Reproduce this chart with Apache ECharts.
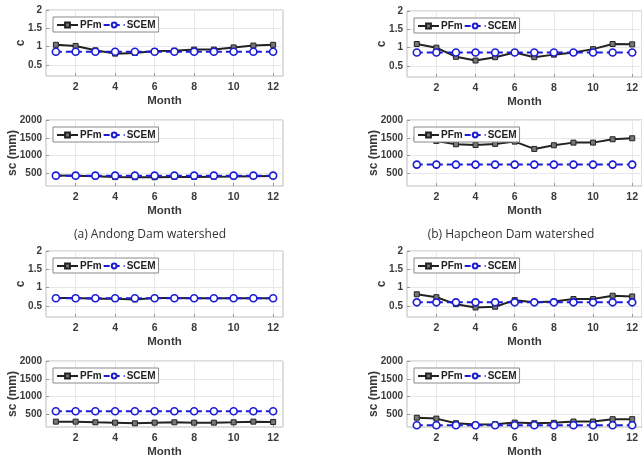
<!DOCTYPE html>
<html>
<head>
<meta charset="utf-8">
<script src="https://cdn.jsdelivr.net/npm/echarts@6/dist/echarts.min.js"></script>
<style>
    html, body { margin: 0; padding: 0; background: #fff; }
    #main { width: 642px; height: 463px; }
</style>
</head>
<body>
<div id="main"></div>
<script>
// months on the x axis
var months = [1, 2, 3, 4, 5, 6, 7, 8, 9, 10, 11, 12];
var monthTicks = [2, 4, 6, 8, 10, 12];
var cTicks = [0.5, 1, 1.5, 2];
var scTicks = [500, 1000, 1500, 2000];

// (a) Andong Dam watershed
var andongCPFm = [1.05, 1.02, 0.90, 0.81, 0.83, 0.88, 0.89, 0.92, 0.92, 0.98, 1.03, 1.05];
var andongCSCEM = [0.86, 0.86, 0.86, 0.86, 0.86, 0.86, 0.86, 0.86, 0.86, 0.86, 0.86, 0.86];
var andongScPFm = [445, 440, 420, 400, 395, 395, 405, 405, 410, 415, 425, 430];
var andongScSCEM = [440, 440, 440, 440, 440, 440, 440, 440, 440, 440, 440, 440];

// (b) Hapcheon Dam watershed
var hapcheonCPFm = [1.10, 1.00, 0.75, 0.65, 0.74, 0.87, 0.74, 0.81, 0.87, 0.96, 1.10, 1.09];
var hapcheonCSCEM = [0.87, 0.87, 0.87, 0.87, 0.87, 0.87, 0.87, 0.87, 0.87, 0.87, 0.87, 0.87];
var hapcheonScPFm = [1480, 1413, 1320, 1300, 1330, 1394, 1189, 1292, 1366, 1366, 1460, 1488];
var hapcheonScSCEM = [750, 750, 750, 750, 750, 750, 750, 750, 750, 750, 750, 750];

// bottom left watershed
var blCPFm = [0.72, 0.72, 0.70, 0.70, 0.68, 0.72, 0.72, 0.71, 0.71, 0.71, 0.71, 0.71];
var blCSCEM = [0.71, 0.71, 0.71, 0.71, 0.71, 0.71, 0.71, 0.71, 0.71, 0.71, 0.71, 0.71];
var blScPFm = [300, 300, 282, 272, 254, 272, 282, 272, 272, 282, 300, 291];
var blScSCEM = [590, 590, 590, 590, 590, 590, 590, 590, 590, 590, 590, 590];

// bottom right watershed
var brCPFm = [0.82, 0.74, 0.55, 0.46, 0.48, 0.66, 0.60, 0.62, 0.69, 0.69, 0.78, 0.76];
var brCSCEM = [0.60, 0.60, 0.60, 0.60, 0.60, 0.60, 0.60, 0.60, 0.60, 0.60, 0.60, 0.60];
var brScPFm = [410, 385, 256, 219, 228, 275, 256, 266, 303, 303, 369, 369];
var brScSCEM = [200, 200, 200, 200, 200, 200, 200, 200, 200, 200, 200, 200];

var captions = ['(a) Andong Dam watershed', '(b) Hapcheon Dam watershed'];

var panels = [
    {left: 46, top: 10, kind: 'c', pfm: andongCPFm, scem: andongCSCEM},
    {left: 46, top: 120, kind: 'sc', pfm: andongScPFm, scem: andongScSCEM},
    {left: 407, top: 11, kind: 'c', pfm: hapcheonCPFm, scem: hapcheonCSCEM},
    {left: 407, top: 120, kind: 'sc', pfm: hapcheonScPFm, scem: hapcheonScSCEM},
    {left: 46, top: 251, kind: 'c', pfm: blCPFm, scem: blCSCEM},
    {left: 46, top: 361, kind: 'sc', pfm: blScPFm, scem: blScSCEM},
    {left: 407, top: 251, kind: 'c', pfm: brCPFm, scem: brCSCEM},
    {left: 407, top: 361, kind: 'sc', pfm: brScPFm, scem: brScSCEM}
];

var boxColor = '#bdbdbd';
var gridColor = '#e8e8e8';
var labelColor = '#3a3a3a';
var blue = '#1c1cd6';

function pairs(vals) {
    return months.map(function (m, i) { return [m, vals[i]]; });
}

var grid = [], xAxis = [], yAxis = [], series = [], legend = [];

panels.forEach(function (p, i) {
    grid.push({left: p.left, top: p.top, width: 237, height: 66, show: true,
        borderColor: boxColor, borderWidth: 1, backgroundColor: '#fff'});
    xAxis.push({
        type: 'value', gridIndex: i, min: 0.5, max: 12.5,
        name: 'Month', nameLocation: 'middle', nameGap: 19, nameMoveOverlap: false,
        nameTextStyle: {color: labelColor, fontSize: 11.5, fontWeight: 'bold', fontFamily: 'Liberation Sans'},
        axisLine: {show: false},
        axisTick: {show: true, inside: true, length: 3, customValues: monthTicks, lineStyle: {color: '#999'}},
        axisLabel: {color: labelColor, fontSize: 10.5, fontWeight: 'bold', fontFamily: 'Liberation Sans',
            margin: 6, customValues: monthTicks},
        splitLine: {show: true, lineStyle: {color: gridColor, width: 1}}
    });
    var isC = p.kind === 'c';
    yAxis.push({
        type: 'value', gridIndex: i,
        min: isC ? 0.2 : 150, max: isC ? 2 : 2000,
        name: isC ? 'c' : 'sc (mm)', nameLocation: 'middle', nameGap: isC ? 19 : 27, nameMoveOverlap: false,
        nameTextStyle: {color: labelColor, fontSize: 12, fontWeight: 'bold', fontFamily: 'Liberation Sans'},
        axisLine: {show: false},
        axisTick: {show: true, inside: true, length: 3, customValues: isC ? cTicks : scTicks, lineStyle: {color: '#999'}},
        axisLabel: {color: labelColor, fontSize: 10, fontWeight: 'bold', fontFamily: 'Liberation Sans',
            margin: 4, customValues: isC ? cTicks : scTicks,
            formatter: function (v) { return String(v); }},
        splitLine: {show: true, lineStyle: {color: gridColor, width: 1}}
    });
    series.push({
        name: 'PFm', type: 'line', xAxisIndex: i, yAxisIndex: i,
        data: pairs(p.pfm), symbol: 'rect', symbolSize: 5,
        lineStyle: {color: '#222', width: 2},
        itemStyle: {color: '#777', borderColor: '#222', borderWidth: 1},
        emphasis: {disabled: true}, animation: false
    });
    series.push({
        name: 'SCEM', type: 'line', xAxisIndex: i, yAxisIndex: i,
        data: pairs(p.scem), symbol: 'circle', symbolSize: 7,
        lineStyle: {color: blue, width: 2, type: [6, 4]},
        itemStyle: {color: '#fff', borderColor: blue, borderWidth: 1.6},
        emphasis: {disabled: true}, animation: false
    });
    legend.push({
        left: p.left + 7, top: p.top + 7,
        data: ['PFm', 'SCEM'],
        itemWidth: 21, itemHeight: 6, itemGap: 1,
        padding: [3, 3, 2, 3],
        borderColor: '#8a8a8a', borderWidth: 1, borderRadius: 0,
        backgroundColor: '#fff', selectedMode: false,
        textStyle: {color: '#222', fontSize: 10, fontWeight: 'bold', fontFamily: 'Liberation Sans', padding: [0, 0, 0, -3]}
    });
});

var myChart = echarts.init(document.getElementById('main'));

var option = {
    animation: false,
    backgroundColor: '#fff',
    title: [
        {text: captions[0], left: 145, top: 224, textAlign: 'center',
            textStyle: {color: '#333', fontSize: 12, fontWeight: 'normal', fontFamily: 'Open Sans'}},
        {text: captions[1], left: 506, top: 224, textAlign: 'center',
            textStyle: {color: '#333', fontSize: 12, fontWeight: 'normal', fontFamily: 'Open Sans'}}
    ],
    legend: legend,
    grid: grid,
    xAxis: xAxis,
    yAxis: yAxis,
    series: series
};
myChart.setOption(option);
</script>
</body>
</html>
